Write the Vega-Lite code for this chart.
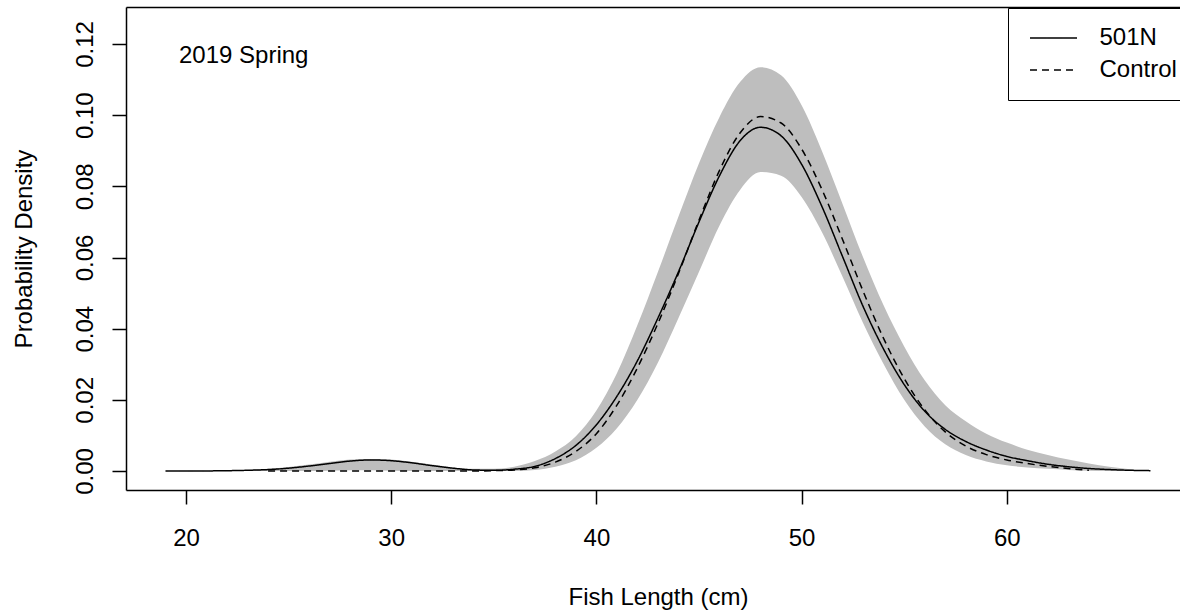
{
  "$schema": "https://vega.github.io/schema/vega-lite/v6.json",
  "width": 1054,
  "height": 483,
  "autosize": {"type": "none"},
  "padding": {"left": 126, "top": 7, "right": 0, "bottom": 123},
  "background": "white",
  "config": {
    "view": {"stroke": null},
    "font": "Liberation Sans",
    "axis": {
      "grid": false,
      "domainColor": "black",
      "domainWidth": 1.5,
      "tickColor": "black",
      "tickWidth": 1.5,
      "tickSize": 14,
      "labelFont": "Liberation Sans",
      "labelFontSize": 24,
      "labelColor": "black",
      "titleFont": "Liberation Sans",
      "titleFontSize": 24,
      "titleFontWeight": "normal",
      "titleColor": "black",
      "labelFlush": false,
      "labelOverlap": false
    }
  },
  "datasets": {
    "band": [
      {"x": 21.5, "lower": 0, "upper": 0},
      {"x": 22, "lower": 0, "upper": 0.0002},
      {"x": 23, "lower": 0, "upper": 0.0003},
      {"x": 24, "lower": 0, "upper": 0.0006},
      {"x": 25, "lower": 0, "upper": 0.0011},
      {"x": 26, "lower": 0, "upper": 0.0018},
      {"x": 27, "lower": 0.0001, "upper": 0.0026},
      {"x": 28, "lower": 0.0002, "upper": 0.0032},
      {"x": 29, "lower": 0.0002, "upper": 0.0034},
      {"x": 30, "lower": 0.0001, "upper": 0.0032},
      {"x": 31, "lower": 0, "upper": 0.0026},
      {"x": 32, "lower": 0, "upper": 0.0018},
      {"x": 33, "lower": 0, "upper": 0.0010},
      {"x": 34, "lower": 0, "upper": 0.0006},
      {"x": 35, "lower": 0, "upper": 0.0006},
      {"x": 36, "lower": 0, "upper": 0.0012},
      {"x": 37, "lower": 0.0003, "upper": 0.0028},
      {"x": 38, "lower": 0.0012, "upper": 0.0055},
      {"x": 39, "lower": 0.0030, "upper": 0.0098},
      {"x": 40, "lower": 0.0065, "upper": 0.0170},
      {"x": 41, "lower": 0.0120, "upper": 0.0275},
      {"x": 42, "lower": 0.0200, "upper": 0.0410},
      {"x": 43, "lower": 0.0305, "upper": 0.0560},
      {"x": 44, "lower": 0.0430, "upper": 0.0715},
      {"x": 45, "lower": 0.0560, "upper": 0.0865},
      {"x": 46, "lower": 0.0690, "upper": 0.0995},
      {"x": 47, "lower": 0.0790, "upper": 0.1093},
      {"x": 48, "lower": 0.0840, "upper": 0.1135},
      {"x": 49, "lower": 0.0830, "upper": 0.1112},
      {"x": 50, "lower": 0.0770, "upper": 0.1028},
      {"x": 51, "lower": 0.0670, "upper": 0.0898},
      {"x": 52, "lower": 0.0545, "upper": 0.0750},
      {"x": 53, "lower": 0.0415, "upper": 0.0600},
      {"x": 54, "lower": 0.0300, "upper": 0.0465},
      {"x": 55, "lower": 0.0200, "upper": 0.0350},
      {"x": 56, "lower": 0.0125, "upper": 0.0255},
      {"x": 57, "lower": 0.0075, "upper": 0.0185},
      {"x": 58, "lower": 0.0045, "upper": 0.0140},
      {"x": 59, "lower": 0.0027, "upper": 0.0105},
      {"x": 60, "lower": 0.0016, "upper": 0.0080},
      {"x": 61, "lower": 0.0010, "upper": 0.0060},
      {"x": 62, "lower": 0.0006, "upper": 0.0045},
      {"x": 63, "lower": 0.0003, "upper": 0.0032},
      {"x": 64, "lower": 0.0001, "upper": 0.0021},
      {"x": 65, "lower": 0, "upper": 0.0012},
      {"x": 66, "lower": 0, "upper": 0.0005},
      {"x": 66.5, "lower": 0, "upper": 0.0001}
    ],
    "curves": [
      {"series": "501N", "x": 19, "y": 0},
      {"series": "501N", "x": 20, "y": 0},
      {"series": "501N", "x": 21, "y": 0.00002},
      {"series": "501N", "x": 22, "y": 0.00008},
      {"series": "501N", "x": 23, "y": 0.0002},
      {"series": "501N", "x": 24, "y": 0.0004},
      {"series": "501N", "x": 25, "y": 0.0008},
      {"series": "501N", "x": 26, "y": 0.0014},
      {"series": "501N", "x": 27, "y": 0.0021},
      {"series": "501N", "x": 28, "y": 0.0028},
      {"series": "501N", "x": 29, "y": 0.0031},
      {"series": "501N", "x": 30, "y": 0.0029},
      {"series": "501N", "x": 31, "y": 0.0023},
      {"series": "501N", "x": 32, "y": 0.0015},
      {"series": "501N", "x": 33, "y": 0.0008},
      {"series": "501N", "x": 34, "y": 0.0003},
      {"series": "501N", "x": 35, "y": 0.0002},
      {"series": "501N", "x": 36, "y": 0.0005},
      {"series": "501N", "x": 37, "y": 0.0013},
      {"series": "501N", "x": 38, "y": 0.0035},
      {"series": "501N", "x": 39, "y": 0.0072},
      {"series": "501N", "x": 40, "y": 0.0130},
      {"series": "501N", "x": 41, "y": 0.0210},
      {"series": "501N", "x": 42, "y": 0.0310},
      {"series": "501N", "x": 43, "y": 0.0430},
      {"series": "501N", "x": 44, "y": 0.0560},
      {"series": "501N", "x": 45, "y": 0.0700},
      {"series": "501N", "x": 46, "y": 0.0830},
      {"series": "501N", "x": 47, "y": 0.0928},
      {"series": "501N", "x": 48, "y": 0.0966},
      {"series": "501N", "x": 49, "y": 0.0942},
      {"series": "501N", "x": 50, "y": 0.0862},
      {"series": "501N", "x": 51, "y": 0.0742},
      {"series": "501N", "x": 52, "y": 0.0602},
      {"series": "501N", "x": 53, "y": 0.0462},
      {"series": "501N", "x": 54, "y": 0.0342},
      {"series": "501N", "x": 55, "y": 0.0243},
      {"series": "501N", "x": 56, "y": 0.0168},
      {"series": "501N", "x": 57, "y": 0.0117},
      {"series": "501N", "x": 58, "y": 0.0083},
      {"series": "501N", "x": 59, "y": 0.0059},
      {"series": "501N", "x": 60, "y": 0.0041},
      {"series": "501N", "x": 61, "y": 0.0029},
      {"series": "501N", "x": 62, "y": 0.0019},
      {"series": "501N", "x": 63, "y": 0.0012},
      {"series": "501N", "x": 64, "y": 0.0007},
      {"series": "501N", "x": 65, "y": 0.0004},
      {"series": "501N", "x": 66, "y": 0.0002},
      {"series": "501N", "x": 67, "y": 0.0001},
      {"series": "Control", "x": 24, "y": 0},
      {"series": "Control", "x": 28, "y": 0},
      {"series": "Control", "x": 32, "y": 0},
      {"series": "Control", "x": 34, "y": 0},
      {"series": "Control", "x": 35, "y": 0.0001},
      {"series": "Control", "x": 36, "y": 0.0003},
      {"series": "Control", "x": 37, "y": 0.0009},
      {"series": "Control", "x": 38, "y": 0.0025},
      {"series": "Control", "x": 39, "y": 0.0055},
      {"series": "Control", "x": 40, "y": 0.0105},
      {"series": "Control", "x": 41, "y": 0.0185},
      {"series": "Control", "x": 42, "y": 0.0290},
      {"series": "Control", "x": 43, "y": 0.0415},
      {"series": "Control", "x": 44, "y": 0.0555},
      {"series": "Control", "x": 45, "y": 0.0705},
      {"series": "Control", "x": 46, "y": 0.0845},
      {"series": "Control", "x": 47, "y": 0.0950},
      {"series": "Control", "x": 48, "y": 0.0996},
      {"series": "Control", "x": 49, "y": 0.0978},
      {"series": "Control", "x": 50, "y": 0.0905},
      {"series": "Control", "x": 51, "y": 0.0790},
      {"series": "Control", "x": 52, "y": 0.0650},
      {"series": "Control", "x": 53, "y": 0.0505},
      {"series": "Control", "x": 54, "y": 0.0372},
      {"series": "Control", "x": 55, "y": 0.0260},
      {"series": "Control", "x": 56, "y": 0.0172},
      {"series": "Control", "x": 57, "y": 0.0110},
      {"series": "Control", "x": 58, "y": 0.0070},
      {"series": "Control", "x": 59, "y": 0.0046},
      {"series": "Control", "x": 60, "y": 0.0031},
      {"series": "Control", "x": 61, "y": 0.0021},
      {"series": "Control", "x": 62, "y": 0.0013},
      {"series": "Control", "x": 63, "y": 0.0007},
      {"series": "Control", "x": 64, "y": 0.0002}
    ],
    "note": [{"label": "2019 Spring"}]
  },
  "layer": [
    {
      "data": {"name": "band"},
      "mark": {"type": "area", "color": "#BEBEBE", "opacity": 1, "interpolate": "monotone"},
      "encoding": {
        "x": {
          "field": "x", "type": "quantitative",
          "scale": {"domain": [17.076, 68.44], "nice": false, "zero": false},
          "axis": {
            "orient": "bottom",
            "values": [20, 30, 40, 50, 60],
            "title": "Fish Length (cm)",
            "labelBaseline": "alphabetic",
            "labelPadding": 41,
            "titleBaseline": "alphabetic",
            "titleAlign": "center",
            "titleX": 532,
            "titleY": 114
          }
        },
        "y": {
          "field": "upper", "type": "quantitative",
          "title": "Probability Density",
          "scale": {"domain": [-0.00534, 0.1304], "nice": false, "zero": false},
          "axis": {
            "values": [0, 0.02, 0.04, 0.06, 0.08, 0.1, 0.12],
            "format": ".2f",
            "labelAngle": 270,
            "labelAlign": "center",
            "labelBaseline": "alphabetic",
            "labelPadding": 20,
            "titleAngle": 270,
            "titleAlign": "center",
            "titleBaseline": "alphabetic",
            "titleX": -94.5,
            "titleY": 241.5
          }
        },
        "y2": {"field": "lower"}
      }
    },
    {
      "data": {"name": "curves"},
      "mark": {"type": "line", "color": "black", "strokeWidth": 1.5, "interpolate": "monotone"},
      "encoding": {
        "x": {
          "field": "x", "type": "quantitative",
          "scale": {"domain": [17.076, 68.44], "nice": false, "zero": false},
          "axis": {"orient": "top", "labels": false, "ticks": false, "title": null, "domain": true}
        },
        "y": {
          "field": "y", "type": "quantitative",
          "title": "Probability Density",
          "scale": {"domain": [-0.00534, 0.1304], "nice": false, "zero": false}
        },
        "strokeDash": {
          "field": "series", "type": "nominal",
          "scale": {"domain": ["501N", "Control"], "range": [[1, 0], [7, 5]]},
          "legend": {
            "title": null,
            "orient": "none",
            "legendX": 882,
            "legendY": 1,
            "strokeColor": "black",
            "padding": 18,
            "symbolType": "M-2.35,0H2.35",
            "symbolSize": 400,
            "symbolStrokeWidth": 1.5,
            "symbolStrokeColor": "black",
            "symbolFillColor": "transparent",
            "symbolOffset": 15.5,
            "labelOffset": 34,
            "rowPadding": 8,
            "labelFont": "Liberation Sans",
            "labelFontSize": 24,
            "labelColor": "black",
            "labelLimit": 0
          }
        }
      }
    },
    {
      "data": {"name": "note"},
      "mark": {"type": "text", "align": "left", "baseline": "alphabetic", "fontSize": 24, "font": "Liberation Sans", "color": "black"},
      "encoding": {
        "x": {"datum": 19.66, "type": "quantitative", "axis": null, "scale": {"domain": [17.076, 68.44], "nice": false, "zero": false}},
        "y": {"datum": 0.1147, "type": "quantitative", "title": "Probability Density", "scale": {"domain": [-0.00534, 0.1304], "nice": false, "zero": false}},
        "text": {"field": "label"}
      }
    }
  ],
  "resolve": {"axis": {"x": "independent"}}
}
